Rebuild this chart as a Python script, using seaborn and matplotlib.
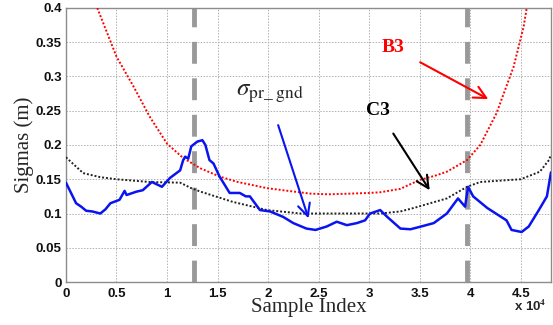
import numpy as np
import pandas as pd
import matplotlib
matplotlib.use("Agg")
import matplotlib.pyplot as plt
import seaborn as sns

# ---- data (x in samples) ----
blue_x = [0, 1000, 1500, 2000, 2600, 3400, 3900, 4400, 5300, 5800, 6000, 7000, 7600, 8500,
          9500, 10300, 11300, 11600, 11800, 12100, 12400, 13000, 13500, 13800, 14200, 14600,
          15200, 16200, 17200, 17800, 18200, 19200, 20200, 21500, 22500, 23800, 24700, 25800,
          26800, 27800, 28800, 29600, 30100, 31100, 31800, 33100, 34100, 35400, 36400, 37700,
          38800, 39500, 39800, 40300, 41700, 43600, 44100, 45100, 45800, 46800, 47600, 48000]
blue_y = [0.145, 0.115, 0.110, 0.104, 0.103, 0.100, 0.106, 0.115, 0.120, 0.133, 0.127, 0.132,
          0.134, 0.146, 0.139, 0.152, 0.163, 0.178, 0.183, 0.180, 0.198, 0.205, 0.207, 0.200,
          0.178, 0.173, 0.154, 0.130, 0.130, 0.125, 0.125, 0.105, 0.103, 0.095, 0.086, 0.078,
          0.076, 0.081, 0.088, 0.083, 0.086, 0.090, 0.100, 0.105, 0.095, 0.078, 0.077, 0.082,
          0.086, 0.100, 0.122, 0.110, 0.139, 0.125, 0.108, 0.090, 0.076, 0.073, 0.081, 0.105,
          0.125, 0.160]

b3_x = [3100, 5000, 6700, 8300, 10000, 11600, 13300, 15200, 17000, 19900, 22000, 24200, 26000,
        28100, 30000, 31100, 33100, 35000, 36500, 37700, 39700, 41000, 42600, 44300, 45300, 45600]
b3_y = [0.400, 0.329, 0.285, 0.241, 0.202, 0.181, 0.166, 0.154, 0.146, 0.137, 0.133, 0.129,
        0.128, 0.129, 0.130, 0.131, 0.136, 0.149, 0.155, 0.161, 0.178, 0.200, 0.246, 0.314,
        0.373, 0.400]

c3_x = [0, 1700, 3400, 5000, 8300, 11300, 12400, 13300, 16500, 19900, 23200, 28100, 31100,
        33100, 34400, 37700, 39700, 41000, 43000, 45000, 46900, 47800, 48000]
c3_y = [0.182, 0.159, 0.153, 0.150, 0.146, 0.145, 0.137, 0.132, 0.117, 0.105, 0.100, 0.100,
        0.100, 0.103, 0.108, 0.122, 0.139, 0.146, 0.148, 0.150, 0.161, 0.178, 0.186]

vlines_x = [12700, 39700]

xticks = [0, 5000, 10000, 15000, 20000, 25000, 30000, 35000, 40000, 45000]
xtick_labels = ["0", "0.5", "1", "1.5", "2", "2.5", "3", "3.5", "4", "4.5"]
yticks = [0, 0.05, 0.1, 0.15, 0.2, 0.25, 0.3, 0.35, 0.4]
ytick_labels = ["0", "0.05", "0.1", "0.15", "0.2", "0.25", "0.3", "0.35", "0.4"]

sns.set_style("whitegrid")
plt.rcParams["mathtext.fontset"] = "stix"

fig = plt.figure(figsize=(5.53, 3.25), dpi=100)
ax = fig.add_axes([0.1193, 0.1323, 0.8770, 0.8431])

df_blue = pd.DataFrame({"x": blue_x, "y": blue_y})
df_b3 = pd.DataFrame({"x": b3_x, "y": b3_y})
df_c3 = pd.DataFrame({"x": c3_x, "y": c3_y})

for xv in vlines_x:
    ax.axvline(xv, color="#999999", lw=3.5, ls=(0, (4.5, 3.0)), zorder=1)

sns.lineplot(data=df_b3, x="x", y="y", ax=ax, color="red", lw=1.4, ls=(0, (1, 1)),
             sort=False, estimator=None, zorder=3)
sns.lineplot(data=df_c3, x="x", y="y", ax=ax, color="#222222", lw=1.4, ls=(0, (1, 1)),
             sort=False, estimator=None, zorder=3)
sns.lineplot(data=df_blue, x="x", y="y", ax=ax, color="#0a14f0", lw=1.8,
             sort=False, estimator=None, zorder=4)

ax.set_xlim(0, 48000)
ax.set_ylim(0, 0.4)
ax.set_xticks(xticks)
ax.set_xticklabels(xtick_labels)
ax.set_yticks(yticks)
ax.set_yticklabels(ytick_labels)

for lab in ax.get_xticklabels() + ax.get_yticklabels():
    lab.set_fontfamily("Liberation Sans")
    lab.set_fontweight("bold")
    lab.set_fontsize(9.5)
    lab.set_color("#111111")

ax.tick_params(axis="both", direction="in", length=3, width=0.8, color="#888888", pad=3)
ax.tick_params(axis="x", pad=4)
ax.grid(True, color="#b0b0b0", ls=(0, (1.5, 1.5)), lw=0.7)
for s in ax.spines.values():
    s.set_color("#8c8c8c")
    s.set_linewidth(1.0)

ax.set_xlabel("Sample Index", fontfamily="Liberation Serif", fontsize=15, labelpad=-1)
ax.set_ylabel("Sigmas (m)", fontfamily="Liberation Serif", fontsize=15, labelpad=1)

ax.text(0.99, -0.06, r"x 10$^{\mathbf{4}}$", transform=ax.transAxes, ha="right", va="top",
        fontfamily="Liberation Sans", fontweight="bold", fontsize=9.5)

# annotations
ax.annotate("B3", xy=(41800, 0.267), xytext=(32400, 0.342), color="red",
            fontfamily="Liberation Serif", fontweight="bold", fontsize=14,
            ha="center", va="center",
            arrowprops=dict(arrowstyle="->", color="red", lw=1.5, mutation_scale=22,
                            shrinkA=10, shrinkB=0))
ax.annotate("C3", xy=(36000, 0.134), xytext=(30900, 0.251), color="black",
            fontfamily="Liberation Serif", fontweight="bold", fontsize=14,
            ha="center", va="center",
            arrowprops=dict(arrowstyle="->", color="black", lw=1.5, mutation_scale=22,
                            shrinkA=10, shrinkB=0))
ax.annotate("", xy=(24000, 0.093), xytext=(21000, 0.229),
            arrowprops=dict(arrowstyle="->", color="#0a14f0", lw=1.5, mutation_scale=22,
                            shrinkA=0, shrinkB=0))
ax.text(16800, 0.276, r"$\sigma_{\mathrm{pr\_\ gnd}}$", fontsize=18, ha="left", va="center")

fig.savefig("out.png", dpi=100)
